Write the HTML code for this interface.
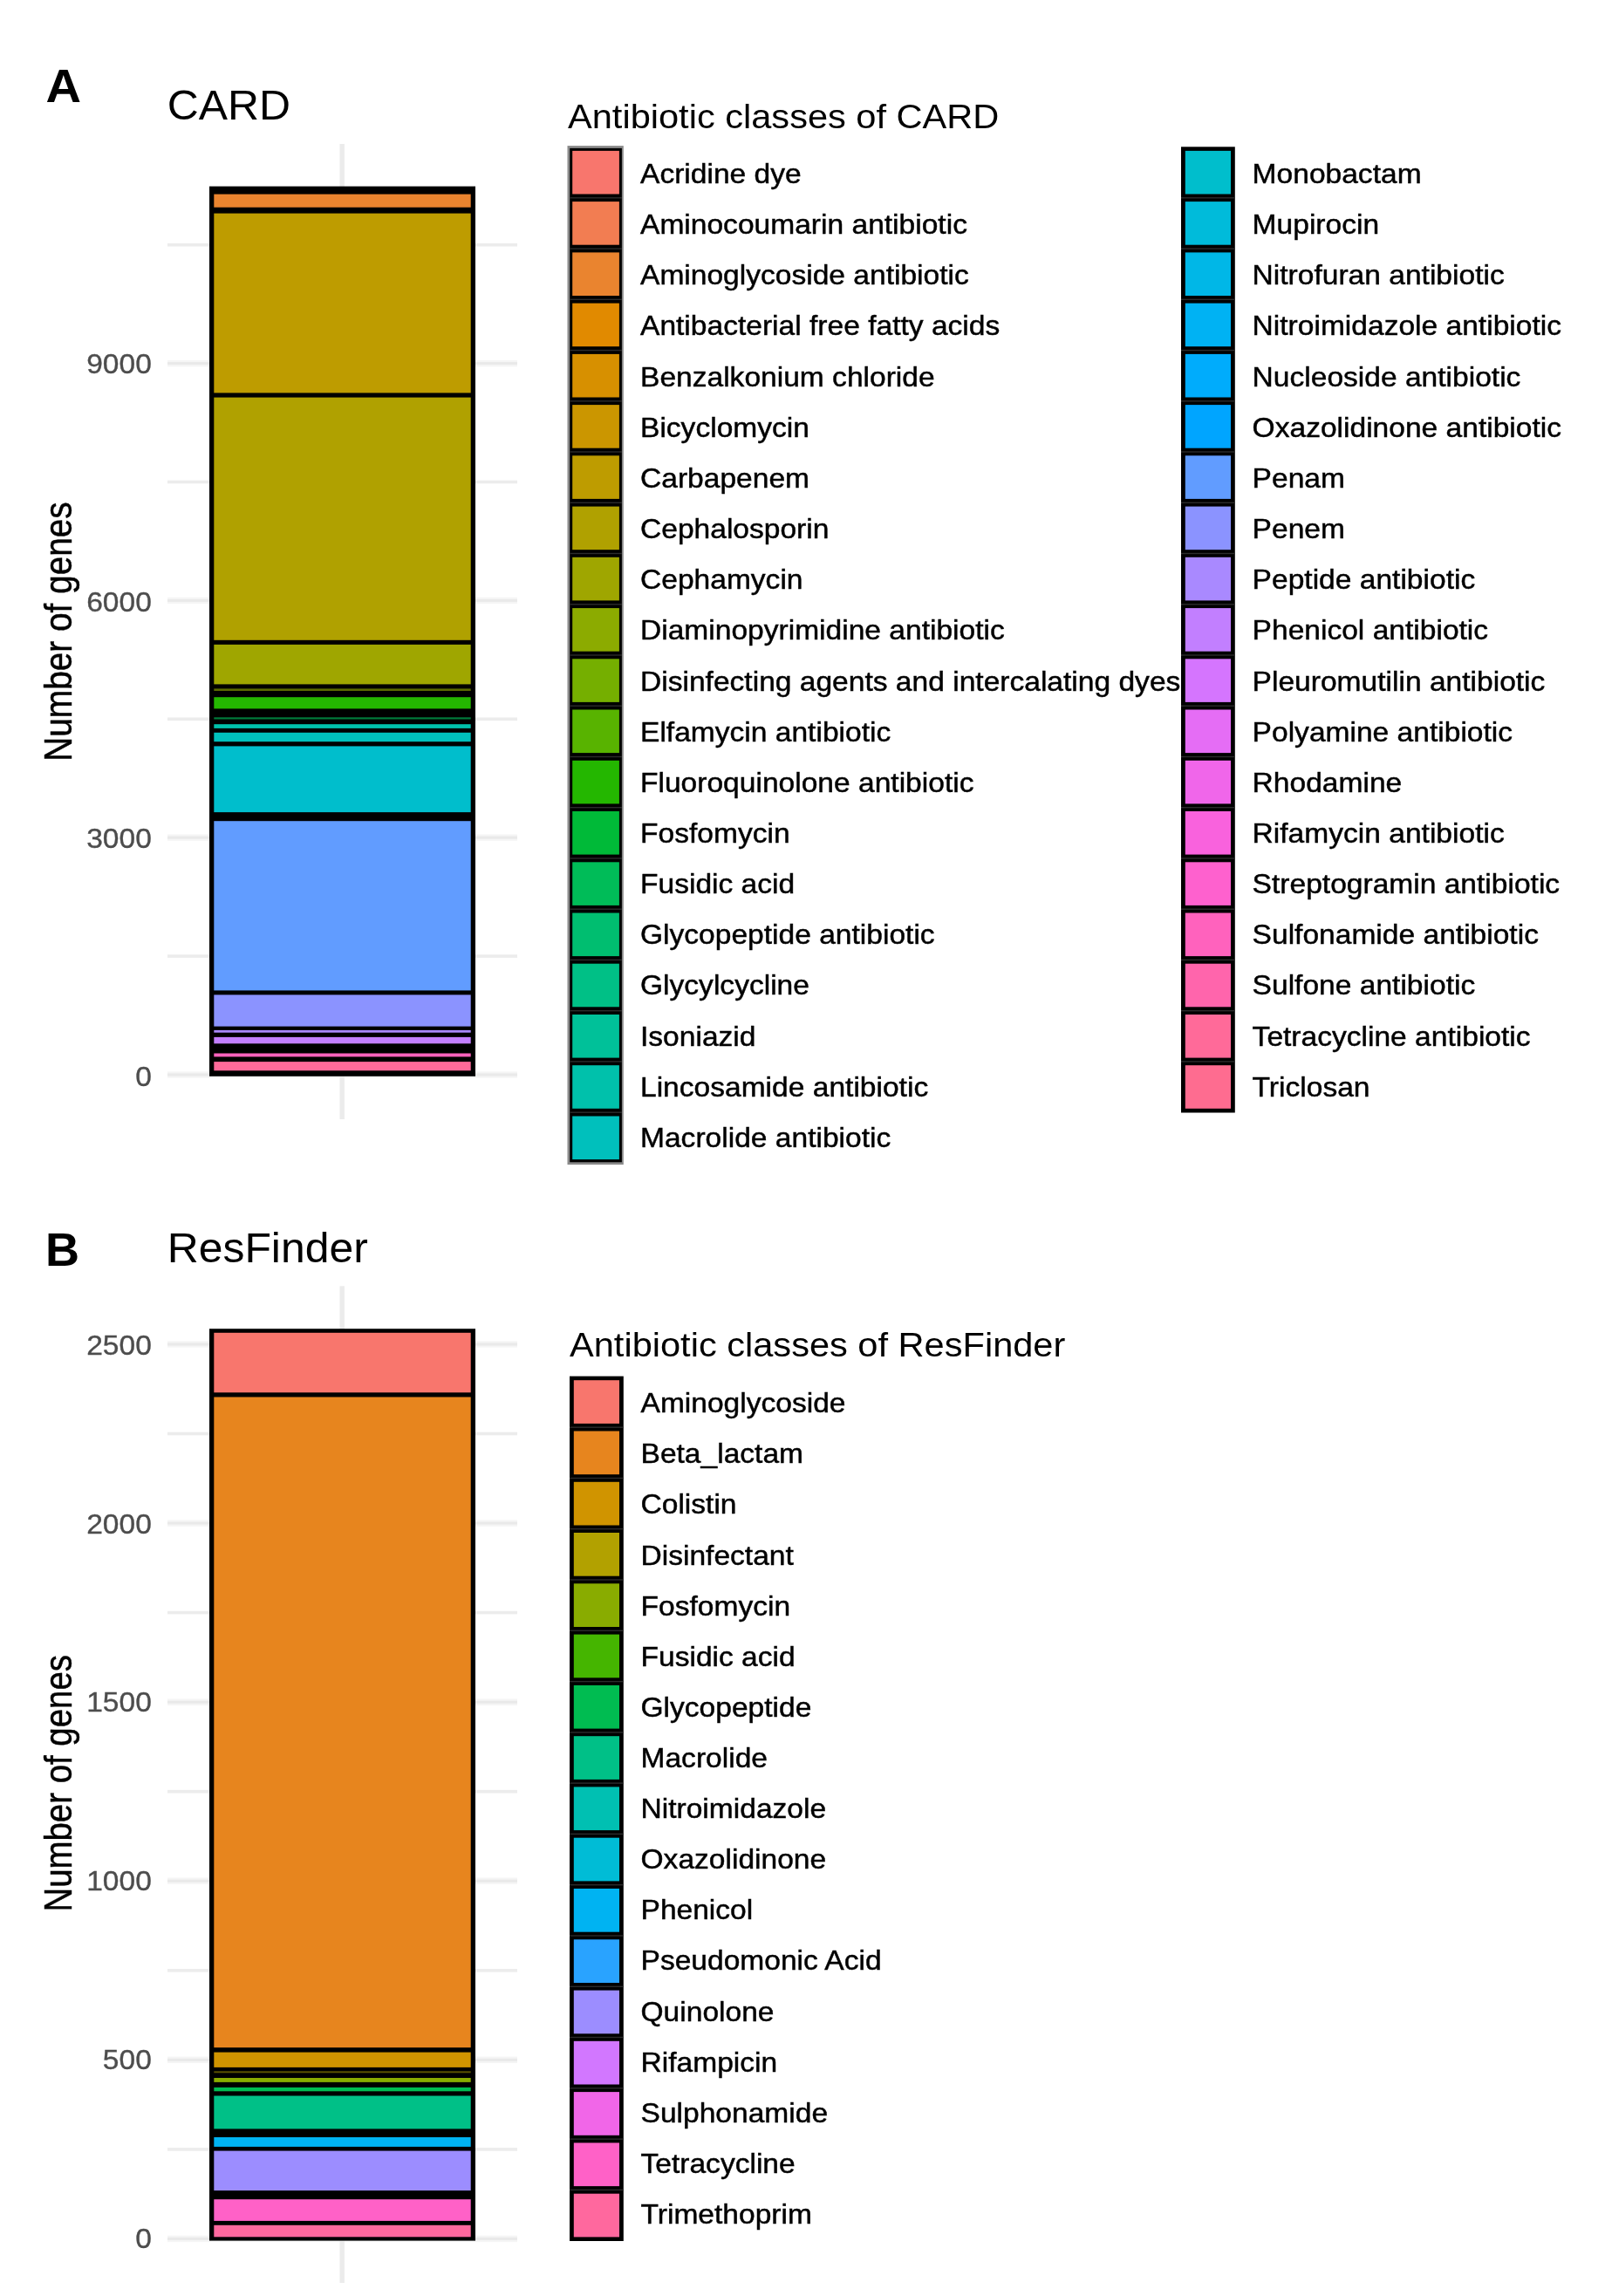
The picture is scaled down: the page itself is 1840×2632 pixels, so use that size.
<!DOCTYPE html>
<html><head><meta charset="utf-8"><title>Antibiotic classes</title>
<style>
html,body{margin:0;padding:0;background:#fff;}
svg{display:block;filter:blur(0.6px)}
text{font-family:"Liberation Sans",Arial,Helvetica,sans-serif;}
.lab{font-size:30.8px;fill:#000;stroke:#000;stroke-width:0.45px}
.ax{font-size:30.8px;fill:#4d4d4d;text-anchor:end;stroke:#4d4d4d;stroke-width:0.35px}
.lt{font-size:38.15px;fill:#000}
.yt{font-size:38.8px;fill:#000;text-anchor:middle;stroke:#000;stroke-width:0.4px}
.pt{font-size:46.2px;fill:#000}
.tag{font-size:51.5px;font-weight:bold;fill:#000}
</style></head><body>
<svg width="1840" height="2632" viewBox="0 0 1840 2632">
<rect width="1840" height="2632" fill="#fff"/>

<rect x="192" y="1094.3" width="401" height="3.6" fill="#ececec"/>
<rect x="192" y="822.5" width="401" height="3.6" fill="#ececec"/>
<rect x="192" y="550.7" width="401" height="3.6" fill="#ececec"/>
<rect x="192" y="278.9" width="401" height="3.6" fill="#ececec"/>
<rect x="192" y="1228.3" width="401" height="7.4" fill="#f5f5f5"/>
<rect x="192" y="1230.5" width="401" height="3.0" fill="#e9e9e9"/>
<rect x="192" y="956.5" width="401" height="7.4" fill="#f5f5f5"/>
<rect x="192" y="958.7" width="401" height="3.0" fill="#e9e9e9"/>
<rect x="192" y="684.7" width="401" height="7.4" fill="#f5f5f5"/>
<rect x="192" y="686.9" width="401" height="3.0" fill="#e9e9e9"/>
<rect x="192" y="412.9" width="401" height="7.4" fill="#f5f5f5"/>
<rect x="192" y="415.1" width="401" height="3.0" fill="#e9e9e9"/>
<rect x="389.5" y="165" width="5.4" height="1118.0" fill="#ebebeb"/>
<rect x="240" y="213.6" width="305" height="1020.2" fill="#000"/>
<rect x="245.3" y="222.6" width="294.4" height="15.1" fill="#ea842f"/>
<rect x="245.3" y="244.6" width="294.4" height="205.8" fill="#be9c00"/>
<rect x="245.3" y="455.6" width="294.4" height="278.2" fill="#b0a100"/>
<rect x="245.3" y="738.9" width="294.4" height="45.5" fill="#9fa600"/>
<rect x="245.3" y="789.4" width="294.4" height="2.6" fill="#5b6a00"/>
<rect x="245.3" y="799.2" width="294.4" height="13.2" fill="#24b700"/>
<rect x="245.3" y="822.3" width="294.4" height="2.2" fill="#007a3a"/>
<rect x="245.3" y="830.2" width="294.4" height="4.7" fill="#00c1ab"/>
<rect x="245.3" y="839.8" width="294.4" height="10.4" fill="#00c0bc"/>
<rect x="245.3" y="855.4" width="294.4" height="75.7" fill="#00becc"/>
<rect x="245.3" y="941.2" width="294.4" height="194.2" fill="#619cff"/>
<rect x="245.3" y="1140.4" width="294.4" height="36.2" fill="#8b93ff"/>
<rect x="245.3" y="1180.9" width="294.4" height="2.8" fill="#a989ff"/>
<rect x="245.3" y="1188.9" width="294.4" height="7.4" fill="#c27fff"/>
<rect x="245.3" y="1207.5" width="294.4" height="3.9" fill="#ff62bd"/>
<rect x="245.3" y="1217.1" width="294.4" height="10.2" fill="#ff6a99"/>
<text class="ax" transform="translate(173.8,1244.7) scale(1.09,1.035)">0</text>
<text class="ax" transform="translate(173.8,971.6) scale(1.09,1.035)">3000</text>
<text class="ax" transform="translate(173.8,700.7) scale(1.09,1.035)">6000</text>
<text class="ax" transform="translate(173.8,428.2) scale(1.09,1.035)">9000</text>
<text class="yt" transform="translate(81.7,724.0) scale(1.1663,1) rotate(-90)">Number of genes</text>
<text class="pt" transform="translate(191.7,136.5) scale(1.08,1.05)">CARD</text>
<text class="tag" transform="translate(52.5,116.8) scale(1.09,1.05)">A</text>
<text class="lt" transform="translate(651.0,147.3) scale(1.09,1.04)">Antibiotic classes of CARD</text>
<rect x="650.5" y="167.1" width="64.3" height="1168.0" fill="#8a8a8a"/>
<rect x="653.2" y="169.9" width="59.7" height="1162.4" fill="#000"/>
<rect x="656.2" y="172.9" width="53.7" height="49.6" fill="#f8766d"/>
<text class="lab" transform="translate(734.0,210.0) scale(1.09,1.0)">Acridine dye</text>
<rect x="656.2" y="231.1" width="53.7" height="49.6" fill="#f27d52"/>
<rect x="653.2" y="226.1" width="59.7" height="1.4" fill="#2c2c2c"/>
<text class="lab" transform="translate(734.0,268.1) scale(1.09,1.0)">Aminocoumarin antibiotic</text>
<rect x="656.2" y="289.4" width="53.7" height="49.6" fill="#ea842f"/>
<rect x="653.2" y="284.4" width="59.7" height="1.4" fill="#2c2c2c"/>
<text class="lab" transform="translate(734.0,326.3) scale(1.09,1.0)">Aminoglycoside antibiotic</text>
<rect x="656.2" y="347.6" width="53.7" height="49.6" fill="#e18a00"/>
<rect x="653.2" y="342.6" width="59.7" height="1.4" fill="#2c2c2c"/>
<text class="lab" transform="translate(734.0,384.4) scale(1.09,1.0)">Antibacterial free fatty acids</text>
<rect x="656.2" y="405.9" width="53.7" height="49.6" fill="#d79000"/>
<rect x="653.2" y="400.9" width="59.7" height="1.4" fill="#2c2c2c"/>
<text class="lab" transform="translate(734.0,442.6) scale(1.09,1.0)">Benzalkonium chloride</text>
<rect x="656.2" y="464.1" width="53.7" height="49.6" fill="#cb9600"/>
<rect x="653.2" y="459.1" width="59.7" height="1.4" fill="#2c2c2c"/>
<text class="lab" transform="translate(734.0,500.8) scale(1.09,1.0)">Bicyclomycin</text>
<rect x="656.2" y="522.3" width="53.7" height="49.6" fill="#be9c00"/>
<rect x="653.2" y="517.3" width="59.7" height="1.4" fill="#2c2c2c"/>
<text class="lab" transform="translate(734.0,558.9) scale(1.09,1.0)">Carbapenem</text>
<rect x="656.2" y="580.6" width="53.7" height="49.6" fill="#b0a100"/>
<rect x="653.2" y="575.6" width="59.7" height="1.4" fill="#2c2c2c"/>
<text class="lab" transform="translate(734.0,617.0) scale(1.09,1.0)">Cephalosporin</text>
<rect x="656.2" y="638.8" width="53.7" height="49.6" fill="#9fa600"/>
<rect x="653.2" y="633.8" width="59.7" height="1.4" fill="#2c2c2c"/>
<text class="lab" transform="translate(734.0,675.2) scale(1.09,1.0)">Cephamycin</text>
<rect x="656.2" y="697.1" width="53.7" height="49.6" fill="#8cab00"/>
<rect x="653.2" y="692.1" width="59.7" height="1.4" fill="#2c2c2c"/>
<text class="lab" transform="translate(734.0,733.4) scale(1.09,1.0)">Diaminopyrimidine antibiotic</text>
<rect x="656.2" y="755.3" width="53.7" height="49.6" fill="#75af00"/>
<rect x="653.2" y="750.3" width="59.7" height="1.4" fill="#2c2c2c"/>
<text class="lab" transform="translate(734.0,791.5) scale(1.09,1.0)">Disinfecting agents and intercalating dyes</text>
<rect x="656.2" y="813.5" width="53.7" height="49.6" fill="#58b300"/>
<rect x="653.2" y="808.5" width="59.7" height="1.4" fill="#2c2c2c"/>
<text class="lab" transform="translate(734.0,849.6) scale(1.09,1.0)">Elfamycin antibiotic</text>
<rect x="656.2" y="871.8" width="53.7" height="49.6" fill="#24b700"/>
<rect x="653.2" y="866.8" width="59.7" height="1.4" fill="#2c2c2c"/>
<text class="lab" transform="translate(734.0,907.8) scale(1.09,1.0)">Fluoroquinolone antibiotic</text>
<rect x="656.2" y="930.0" width="53.7" height="49.6" fill="#00ba38"/>
<rect x="653.2" y="925.0" width="59.7" height="1.4" fill="#2c2c2c"/>
<text class="lab" transform="translate(734.0,965.9) scale(1.09,1.0)">Fosfomycin</text>
<rect x="656.2" y="988.3" width="53.7" height="49.6" fill="#00bc58"/>
<rect x="653.2" y="983.3" width="59.7" height="1.4" fill="#2c2c2c"/>
<text class="lab" transform="translate(734.0,1024.1) scale(1.09,1.0)">Fusidic acid</text>
<rect x="656.2" y="1046.5" width="53.7" height="49.6" fill="#00be70"/>
<rect x="653.2" y="1041.5" width="59.7" height="1.4" fill="#2c2c2c"/>
<text class="lab" transform="translate(734.0,1082.2) scale(1.09,1.0)">Glycopeptide antibiotic</text>
<rect x="656.2" y="1104.7" width="53.7" height="49.6" fill="#00c086"/>
<rect x="653.2" y="1099.7" width="59.7" height="1.4" fill="#2c2c2c"/>
<text class="lab" transform="translate(734.0,1140.4) scale(1.09,1.0)">Glycylcycline</text>
<rect x="656.2" y="1163.0" width="53.7" height="49.6" fill="#00c199"/>
<rect x="653.2" y="1158.0" width="59.7" height="1.4" fill="#2c2c2c"/>
<text class="lab" transform="translate(734.0,1198.5) scale(1.09,1.0)">Isoniazid</text>
<rect x="656.2" y="1221.2" width="53.7" height="49.6" fill="#00c1ab"/>
<rect x="653.2" y="1216.2" width="59.7" height="1.4" fill="#2c2c2c"/>
<text class="lab" transform="translate(734.0,1256.7) scale(1.09,1.0)">Lincosamide antibiotic</text>
<rect x="656.2" y="1279.5" width="53.7" height="49.6" fill="#00c0bc"/>
<rect x="653.2" y="1274.5" width="59.7" height="1.4" fill="#2c2c2c"/>
<text class="lab" transform="translate(734.0,1314.8) scale(1.09,1.0)">Macrolide antibiotic</text>
<rect x="1354.0" y="168.3" width="61.8" height="1107.2" fill="#000"/>
<rect x="1358.8" y="172.9" width="52.2" height="49.6" fill="#00becc"/>
<text class="lab" transform="translate(1435.6,210.0) scale(1.09,1.0)">Monobactam</text>
<rect x="1358.8" y="231.1" width="52.2" height="49.6" fill="#00bbda"/>
<rect x="1354.0" y="226.1" width="61.8" height="1.4" fill="#2c2c2c"/>
<text class="lab" transform="translate(1435.6,268.1) scale(1.09,1.0)">Mupirocin</text>
<rect x="1358.8" y="289.4" width="52.2" height="49.6" fill="#00b7e7"/>
<rect x="1354.0" y="284.4" width="61.8" height="1.4" fill="#2c2c2c"/>
<text class="lab" transform="translate(1435.6,326.3) scale(1.09,1.0)">Nitrofuran antibiotic</text>
<rect x="1358.8" y="347.6" width="52.2" height="49.6" fill="#00b2f3"/>
<rect x="1354.0" y="342.6" width="61.8" height="1.4" fill="#2c2c2c"/>
<text class="lab" transform="translate(1435.6,384.4) scale(1.09,1.0)">Nitroimidazole antibiotic</text>
<rect x="1358.8" y="405.9" width="52.2" height="49.6" fill="#00acfc"/>
<rect x="1354.0" y="400.9" width="61.8" height="1.4" fill="#2c2c2c"/>
<text class="lab" transform="translate(1435.6,442.6) scale(1.09,1.0)">Nucleoside antibiotic</text>
<rect x="1358.8" y="464.1" width="52.2" height="49.6" fill="#00a5ff"/>
<rect x="1354.0" y="459.1" width="61.8" height="1.4" fill="#2c2c2c"/>
<text class="lab" transform="translate(1435.6,500.8) scale(1.09,1.0)">Oxazolidinone antibiotic</text>
<rect x="1358.8" y="522.3" width="52.2" height="49.6" fill="#619cff"/>
<rect x="1354.0" y="517.3" width="61.8" height="1.4" fill="#2c2c2c"/>
<text class="lab" transform="translate(1435.6,558.9) scale(1.09,1.0)">Penam</text>
<rect x="1358.8" y="580.6" width="52.2" height="49.6" fill="#8b93ff"/>
<rect x="1354.0" y="575.6" width="61.8" height="1.4" fill="#2c2c2c"/>
<text class="lab" transform="translate(1435.6,617.0) scale(1.09,1.0)">Penem</text>
<rect x="1358.8" y="638.8" width="52.2" height="49.6" fill="#a989ff"/>
<rect x="1354.0" y="633.8" width="61.8" height="1.4" fill="#2c2c2c"/>
<text class="lab" transform="translate(1435.6,675.2) scale(1.09,1.0)">Peptide antibiotic</text>
<rect x="1358.8" y="697.1" width="52.2" height="49.6" fill="#c27fff"/>
<rect x="1354.0" y="692.1" width="61.8" height="1.4" fill="#2c2c2c"/>
<text class="lab" transform="translate(1435.6,733.4) scale(1.09,1.0)">Phenicol antibiotic</text>
<rect x="1358.8" y="755.3" width="52.2" height="49.6" fill="#d575fe"/>
<rect x="1354.0" y="750.3" width="61.8" height="1.4" fill="#2c2c2c"/>
<text class="lab" transform="translate(1435.6,791.5) scale(1.09,1.0)">Pleuromutilin antibiotic</text>
<rect x="1358.8" y="813.5" width="52.2" height="49.6" fill="#e56df5"/>
<rect x="1354.0" y="808.5" width="61.8" height="1.4" fill="#2c2c2c"/>
<text class="lab" transform="translate(1435.6,849.6) scale(1.09,1.0)">Polyamine antibiotic</text>
<rect x="1358.8" y="871.8" width="52.2" height="49.6" fill="#f066ea"/>
<rect x="1354.0" y="866.8" width="61.8" height="1.4" fill="#2c2c2c"/>
<text class="lab" transform="translate(1435.6,907.8) scale(1.09,1.0)">Rhodamine</text>
<rect x="1358.8" y="930.0" width="52.2" height="49.6" fill="#f962dd"/>
<rect x="1354.0" y="925.0" width="61.8" height="1.4" fill="#2c2c2c"/>
<text class="lab" transform="translate(1435.6,965.9) scale(1.09,1.0)">Rifamycin antibiotic</text>
<rect x="1358.8" y="988.3" width="52.2" height="49.6" fill="#fe61ce"/>
<rect x="1354.0" y="983.3" width="61.8" height="1.4" fill="#2c2c2c"/>
<text class="lab" transform="translate(1435.6,1024.1) scale(1.09,1.0)">Streptogramin antibiotic</text>
<rect x="1358.8" y="1046.5" width="52.2" height="49.6" fill="#ff62bd"/>
<rect x="1354.0" y="1041.5" width="61.8" height="1.4" fill="#2c2c2c"/>
<text class="lab" transform="translate(1435.6,1082.2) scale(1.09,1.0)">Sulfonamide antibiotic</text>
<rect x="1358.8" y="1104.7" width="52.2" height="49.6" fill="#ff65ac"/>
<rect x="1354.0" y="1099.7" width="61.8" height="1.4" fill="#2c2c2c"/>
<text class="lab" transform="translate(1435.6,1140.4) scale(1.09,1.0)">Sulfone antibiotic</text>
<rect x="1358.8" y="1163.0" width="52.2" height="49.6" fill="#ff6a99"/>
<rect x="1354.0" y="1158.0" width="61.8" height="1.4" fill="#2c2c2c"/>
<text class="lab" transform="translate(1435.6,1198.5) scale(1.09,1.0)">Tetracycline antibiotic</text>
<rect x="1358.8" y="1221.2" width="52.2" height="49.6" fill="#fe6c90"/>
<rect x="1354.0" y="1216.2" width="61.8" height="1.4" fill="#2c2c2c"/>
<text class="lab" transform="translate(1435.6,1256.7) scale(1.09,1.0)">Triclosan</text>
<rect x="192" y="2462.1" width="401" height="3.6" fill="#ececec"/>
<rect x="192" y="2257.0" width="401" height="3.6" fill="#ececec"/>
<rect x="192" y="2051.9" width="401" height="3.6" fill="#ececec"/>
<rect x="192" y="1846.8" width="401" height="3.6" fill="#ececec"/>
<rect x="192" y="1641.7" width="401" height="3.6" fill="#ececec"/>
<rect x="192" y="2562.7" width="401" height="7.4" fill="#f5f5f5"/>
<rect x="192" y="2564.9" width="401" height="3.0" fill="#e9e9e9"/>
<rect x="192" y="2357.6" width="401" height="7.4" fill="#f5f5f5"/>
<rect x="192" y="2359.8" width="401" height="3.0" fill="#e9e9e9"/>
<rect x="192" y="2152.5" width="401" height="7.4" fill="#f5f5f5"/>
<rect x="192" y="2154.7" width="401" height="3.0" fill="#e9e9e9"/>
<rect x="192" y="1947.5" width="401" height="7.4" fill="#f5f5f5"/>
<rect x="192" y="1949.7" width="401" height="3.0" fill="#e9e9e9"/>
<rect x="192" y="1742.4" width="401" height="7.4" fill="#f5f5f5"/>
<rect x="192" y="1744.6" width="401" height="3.0" fill="#e9e9e9"/>
<rect x="192" y="1537.3" width="401" height="7.4" fill="#f5f5f5"/>
<rect x="192" y="1539.5" width="401" height="3.0" fill="#e9e9e9"/>
<rect x="389.5" y="1474.3" width="5.4" height="1142.7" fill="#ebebeb"/>
<rect x="240" y="1523.2" width="305" height="1045.4" fill="#000"/>
<rect x="245.3" y="1527.8" width="294.4" height="68.5" fill="#f8766d"/>
<rect x="245.3" y="1601.5" width="294.4" height="745.7" fill="#e7851e"/>
<rect x="245.3" y="2352.6" width="294.4" height="17.3" fill="#d09400"/>
<rect x="245.3" y="2374.3" width="294.4" height="2.0" fill="#5a5200"/>
<rect x="245.3" y="2382" width="294.4" height="4.9" fill="#89ac00"/>
<rect x="245.3" y="2392.9" width="294.4" height="4.4" fill="#00bc51"/>
<rect x="245.3" y="2402.5" width="294.4" height="37.9" fill="#00c087"/>
<rect x="245.3" y="2450" width="294.4" height="10.9" fill="#00b3f2"/>
<rect x="245.3" y="2465.6" width="294.4" height="45.5" fill="#9c8dff"/>
<rect x="245.3" y="2521.2" width="294.4" height="24.7" fill="#ff61c7"/>
<rect x="245.3" y="2550.8" width="294.4" height="13.5" fill="#ff689e"/>
<text class="ax" transform="translate(173.8,2576.8) scale(1.09,1.035)">0</text>
<text class="ax" transform="translate(173.8,2371.8) scale(1.09,1.035)">500</text>
<text class="ax" transform="translate(173.8,2167.3) scale(1.09,1.035)">1000</text>
<text class="ax" transform="translate(173.8,1962.1) scale(1.09,1.035)">1500</text>
<text class="ax" transform="translate(173.8,1757.8) scale(1.09,1.035)">2000</text>
<text class="ax" transform="translate(173.8,1553.1) scale(1.09,1.035)">2500</text>
<text class="yt" style="font-size:38.4px" transform="translate(81.7,2044.3) scale(1.1663,1) rotate(-90)">Number of genes</text>
<text class="pt" transform="translate(191.7,1447.0) scale(1.08,1.05)">ResFinder</text>
<text class="tag" transform="translate(52.0,1451.3) scale(1.05,1.05)">B</text>
<text class="lt" transform="translate(653.0,1555.3) scale(1.09,1.04)">Antibiotic classes of ResFinder</text>
<rect x="653.0" y="1577.6" width="61.8" height="991.4" fill="#000"/>
<rect x="657.8" y="1582.2" width="52.2" height="49.7" fill="#f8766d"/>
<text class="lab" transform="translate(734.5,1619.1) scale(1.09,1.0)">Aminoglycoside</text>
<rect x="657.8" y="1640.5" width="52.2" height="49.7" fill="#e7851e"/>
<rect x="653.0" y="1635.5" width="61.8" height="1.4" fill="#2c2c2c"/>
<text class="lab" transform="translate(734.5,1677.2) scale(1.09,1.0)">Beta_lactam</text>
<rect x="657.8" y="1698.8" width="52.2" height="49.7" fill="#d09400"/>
<rect x="653.0" y="1693.8" width="61.8" height="1.4" fill="#2c2c2c"/>
<text class="lab" transform="translate(734.5,1735.3) scale(1.09,1.0)">Colistin</text>
<rect x="657.8" y="1757.0" width="52.2" height="49.7" fill="#b2a100"/>
<rect x="653.0" y="1752.0" width="61.8" height="1.4" fill="#2c2c2c"/>
<text class="lab" transform="translate(734.5,1793.5) scale(1.09,1.0)">Disinfectant</text>
<rect x="657.8" y="1815.3" width="52.2" height="49.7" fill="#89ac00"/>
<rect x="653.0" y="1810.3" width="61.8" height="1.4" fill="#2c2c2c"/>
<text class="lab" transform="translate(734.5,1851.6) scale(1.09,1.0)">Fosfomycin</text>
<rect x="657.8" y="1873.6" width="52.2" height="49.7" fill="#45b500"/>
<rect x="653.0" y="1868.6" width="61.8" height="1.4" fill="#2c2c2c"/>
<text class="lab" transform="translate(734.5,1909.7) scale(1.09,1.0)">Fusidic acid</text>
<rect x="657.8" y="1931.9" width="52.2" height="49.7" fill="#00bc51"/>
<rect x="653.0" y="1926.9" width="61.8" height="1.4" fill="#2c2c2c"/>
<text class="lab" transform="translate(734.5,1967.8) scale(1.09,1.0)">Glycopeptide</text>
<rect x="657.8" y="1990.2" width="52.2" height="49.7" fill="#00c087"/>
<rect x="653.0" y="1985.2" width="61.8" height="1.4" fill="#2c2c2c"/>
<text class="lab" transform="translate(734.5,2025.9) scale(1.09,1.0)">Macrolide</text>
<rect x="657.8" y="2048.4" width="52.2" height="49.7" fill="#00c0b2"/>
<rect x="653.0" y="2043.4" width="61.8" height="1.4" fill="#2c2c2c"/>
<text class="lab" transform="translate(734.5,2084.1) scale(1.09,1.0)">Nitroimidazole</text>
<rect x="657.8" y="2106.7" width="52.2" height="49.7" fill="#00bcd6"/>
<rect x="653.0" y="2101.7" width="61.8" height="1.4" fill="#2c2c2c"/>
<text class="lab" transform="translate(734.5,2142.2) scale(1.09,1.0)">Oxazolidinone</text>
<rect x="657.8" y="2165.0" width="52.2" height="49.7" fill="#00b3f2"/>
<rect x="653.0" y="2160.0" width="61.8" height="1.4" fill="#2c2c2c"/>
<text class="lab" transform="translate(734.5,2200.3) scale(1.09,1.0)">Phenicol</text>
<rect x="657.8" y="2223.3" width="52.2" height="49.7" fill="#29a3ff"/>
<rect x="653.0" y="2218.3" width="61.8" height="1.4" fill="#2c2c2c"/>
<text class="lab" transform="translate(734.5,2258.4) scale(1.09,1.0)">Pseudomonic Acid</text>
<rect x="657.8" y="2281.6" width="52.2" height="49.7" fill="#9c8dff"/>
<rect x="653.0" y="2276.6" width="61.8" height="1.4" fill="#2c2c2c"/>
<text class="lab" transform="translate(734.5,2316.5) scale(1.09,1.0)">Quinolone</text>
<rect x="657.8" y="2339.8" width="52.2" height="49.7" fill="#d277ff"/>
<rect x="653.0" y="2334.8" width="61.8" height="1.4" fill="#2c2c2c"/>
<text class="lab" transform="translate(734.5,2374.7) scale(1.09,1.0)">Rifampicin</text>
<rect x="657.8" y="2398.1" width="52.2" height="49.7" fill="#f166e8"/>
<rect x="653.0" y="2393.1" width="61.8" height="1.4" fill="#2c2c2c"/>
<text class="lab" transform="translate(734.5,2432.8) scale(1.09,1.0)">Sulphonamide</text>
<rect x="657.8" y="2456.4" width="52.2" height="49.7" fill="#ff61c7"/>
<rect x="653.0" y="2451.4" width="61.8" height="1.4" fill="#2c2c2c"/>
<text class="lab" transform="translate(734.5,2490.9) scale(1.09,1.0)">Tetracycline</text>
<rect x="657.8" y="2514.7" width="52.2" height="49.7" fill="#ff689e"/>
<rect x="653.0" y="2509.7" width="61.8" height="1.4" fill="#2c2c2c"/>
<text class="lab" transform="translate(734.5,2549.0) scale(1.09,1.0)">Trimethoprim</text>
</svg></body></html>
